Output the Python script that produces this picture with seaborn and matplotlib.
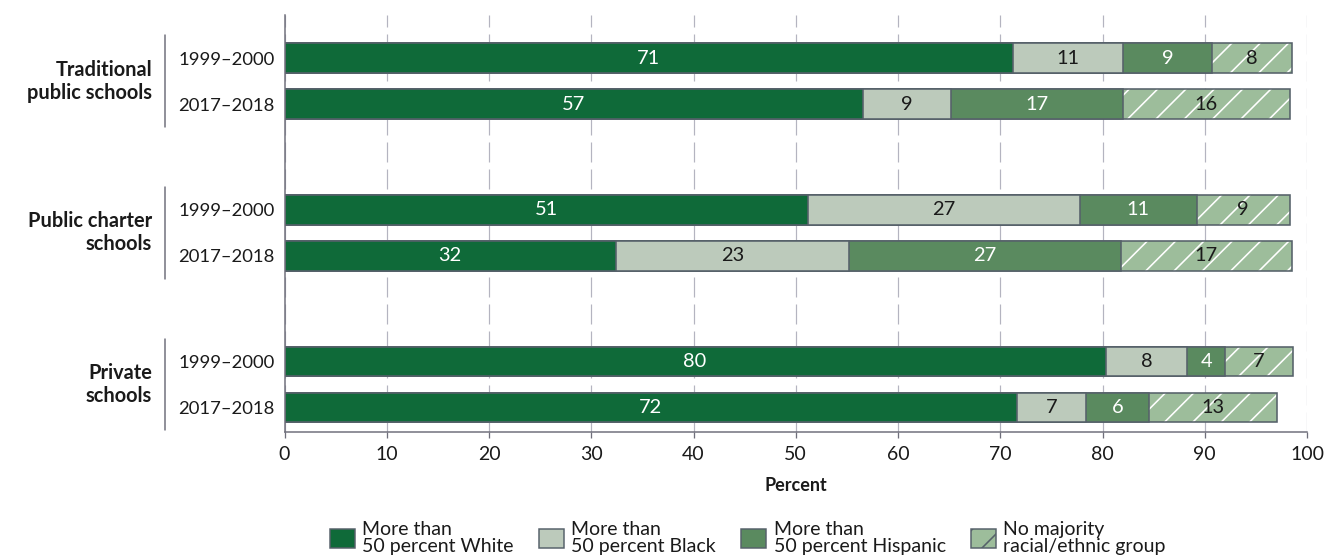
import numpy as np
import pandas as pd
import matplotlib
matplotlib.use("Agg")
import matplotlib.pyplot as plt
import seaborn as sns
from matplotlib.patches import Patch
from matplotlib.transforms import blended_transform_factory

# ---------------- data ----------------
groups = ["Traditional\npublic schools", "Public charter\nschools", "Private\nschools"]
years = ["1999–2000", "2017–2018", "1999–2000", "2017–2018", "1999–2000", "2017–2018"]
series = ["More than\n50 percent White", "More than\n50 percent Black",
          "More than\n50 percent Hispanic", "No majority\nracial/ethnic group"]
white = [71.2, 56.6, 51.2, 32.4, 80.3, 71.6]
black = [10.8, 8.6, 26.6, 22.8, 8.0, 6.8]
hispanic = [8.7, 16.8, 11.4, 26.6, 3.7, 6.1]
nomajority = [7.8, 16.3, 9.1, 16.7, 6.6, 12.6]
xticks = list(range(0, 101, 10))

# ---------------- layout / style ----------------
DPI = 170
def pt(px):
    return px * 72.0 / DPI

pos = [0, 1, 3.3, 4.3, 6.6, 7.6]          # bar centres (row units)
group_centres = [0.5, 3.8, 7.1]
colors = ["#0f6a39", "#bccabb", "#5a8a5f", "#9dbd9b"]
text_colors = ["white", "#1a1a1a", "white", "#1a1a1a"]
EDGE = "#56616a"
GRID = "#b4b4c0"
TXT = "#1a1a1a"

sns.set_theme(style="white")
plt.rcParams["font.family"] = ["Lato", "DejaVu Sans"]
plt.rcParams["hatch.color"] = "white"
plt.rcParams["hatch.linewidth"] = pt(1.6)
plt.rcParams["lines.scale_dashes"] = False

fig = plt.figure(figsize=(1328 / DPI, 560 / DPI), dpi=DPI)
ax = fig.add_axes([284.5 / 1328, 1 - 432.3 / 560, (1307 - 284.5) / 1328, (432.3 - 15) / 560])

values = [white, black, hispanic, nomajority]
cum = np.cumsum(np.array(values), axis=0)

# stacked bars drawn as overlapping cumulative bars (back to front)
for i in [3, 2, 1, 0]:
    d = pd.DataFrame({"pos": pos, "cum": cum[i]})
    sns.barplot(data=d, x="cum", y="pos", orient="y", native_scale=True,
                color=colors[i], saturation=1, width=0.65, errorbar=None,
                edgecolor=EDGE, linewidth=pt(1.6), ax=ax, zorder=2)
    if i == 3:
        for p in ax.containers[-1]:
            p.set_hatch("//")
            p.set_edgecolor("white")
            p.set_linewidth(0)
        sns.barplot(data=d, x="cum", y="pos", orient="y", native_scale=True,
                    color=colors[i], saturation=1, width=0.65, errorbar=None,
                    edgecolor=EDGE, linewidth=pt(1.6), ax=ax, zorder=2)
        for p in ax.containers[-1]:
            p.set_facecolor("none")
            p.set_edgecolor(EDGE)

# value labels
for j in range(4):
    for r in range(len(pos)):
        v = values[j][r]
        ax.text(cum[j][r] - v / 2, pos[r], f"{v:.0f}", ha="center", va="center",
                color=text_colors[j], fontsize=pt(20), zorder=5)

# axes
ax.set_xlim(0, 100)
ax.set_ylim(7.6 + 0.54, -0.94)
ax.set_xticks(xticks)
ax.set_xticklabels([str(t) for t in xticks], fontsize=pt(19.5), color=TXT)
ax.set_yticks(pos)
ax.set_yticklabels(years, fontsize=pt(18.5), color=TXT)
ax.tick_params(axis="y", length=0, pad=pt(10))
ax.tick_params(axis="x", length=pt(6), width=pt(1.3), color="#6e6e7a", pad=pt(8), bottom=True)
ax.set_xlabel("Percent", fontsize=pt(18), fontweight="bold", color=TXT, labelpad=pt(14))
ax.set_ylabel("")
for s in ["top", "right"]:
    ax.spines[s].set_visible(False)
for s in ["left", "bottom"]:
    ax.spines[s].set_visible(True)
    ax.spines[s].set_color("#6e6e7a")
    ax.spines[s].set_linewidth(pt(1.5))
ax.set_axisbelow(True)
ax.xaxis.grid(True, color=GRID, linewidth=pt(1.2), linestyle=(0, (pt(20), pt(7))), zorder=0)
ax.yaxis.grid(False)

# group labels and separators
trans = blended_transform_factory(fig.transFigure, ax.transData)
for g, c in zip(groups, group_centres):
    ax.text(152 / 1328, c, g, transform=trans, ha="right", va="center",
            fontsize=pt(20), fontweight="bold", color=TXT, linespacing=1.2)
    ax.plot([165 / 1328, 165 / 1328], [c - 1.0, c + 1.0], transform=trans,
            color="#6e6e7a", linewidth=pt(1.5), clip_on=False)

# legend
handles = [Patch(facecolor=colors[k], edgecolor=EDGE, linewidth=pt(1.5),
                 hatch="//" if k == 3 else None) for k in range(4)]
leg = fig.legend(handles, series, loc="center", bbox_to_anchor=(748 / 1328, 1 - 538 / 560),
                 ncol=4, frameon=False, fontsize=pt(19.5), handlelength=1.25, handleheight=1.15,
                 handletextpad=0.4, columnspacing=1.3, borderaxespad=0)
for t in leg.get_texts():
    t.set_color(TXT)
    t.set_linespacing(1.05)

fig.savefig("out.png", dpi=DPI)
